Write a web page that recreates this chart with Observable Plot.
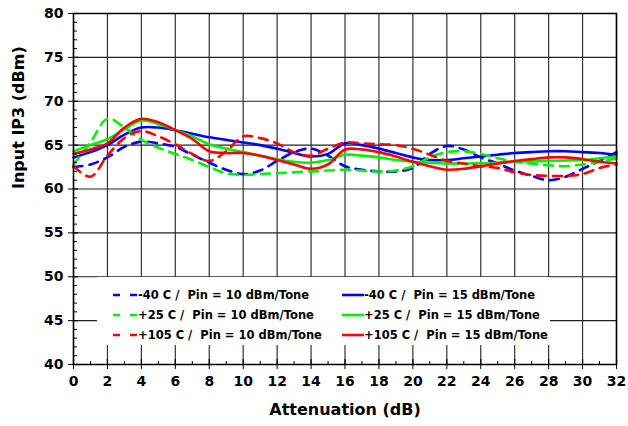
<!DOCTYPE html>
<html>
<head>
<meta charset="utf-8">
<script src="https://cdn.jsdelivr.net/npm/d3@7"></script>
<script src="https://cdn.jsdelivr.net/npm/@observablehq/plot@0.6"></script>
<style>
  html, body { margin: 0; padding: 0; background: #fff; }
  #wrap { position: relative; width: 628px; height: 426px; }
  #legend { position: absolute; left: 97px; top: 277px; width: 453px; height: 68px; background: #fff; }
  svg { font-family: "DejaVu Sans", Verdana, sans-serif; }
</style>
</head>
<body>
<div id="wrap"><div id="legend"></div></div>
<script>
// ---- data ----
const atten = [0,1,2,3,4,5,6,7,8,9,10,11,12,13,14,15,16,17,18,19,20,21,22,23,24,25,26,27,28,29,30,31,32];

const m40_10 = [62.5,62.8,63.6,64.8,65.4,65.2,64.8,63.9,63.0,62.2,61.7,62.1,63.2,64.2,64.6,63.8,62.6,62.2,62.0,62.0,62.4,64.0,64.9,64.5,63.6,62.9,62.1,61.5,61.0,61.4,62.3,63.2,64.2];
const m40_15 = [63.6,64.2,65.0,66.2,67.0,67.0,66.7,66.3,65.9,65.6,65.3,65.0,64.6,64.1,63.7,64.0,65.2,65.0,64.6,64.1,63.6,63.3,63.3,63.5,63.7,63.9,64.1,64.2,64.3,64.3,64.2,64.1,63.9];
const p25_10 = [62.8,65.3,68.0,67.0,65.6,64.7,64.0,63.3,62.5,61.8,61.6,61.7,61.8,61.9,62.0,62.1,62.2,62.1,62.0,62.1,62.6,63.6,64.2,64.3,64.0,63.5,63.1,62.9,62.7,62.6,62.8,63.1,63.5];
const p25_15 = [64.3,65.0,65.7,66.8,67.8,67.4,66.7,66.0,65.1,64.6,64.2,63.8,63.4,63.1,63.0,63.3,63.9,63.8,63.6,63.3,63.1,63.0,62.9,62.9,62.95,63.0,63.1,63.15,63.2,63.25,63.3,63.5,63.7];
const p105_10 = [62.6,61.4,63.8,65.8,66.6,66.0,65.1,64.0,63.2,64.3,66.0,65.8,65.2,64.2,63.8,64.6,65.3,65.2,65.1,65.0,64.6,63.9,63.2,62.9,62.6,62.4,61.9,61.6,61.5,61.5,61.7,62.4,62.8];
const p105_15 = [64.0,64.5,65.2,67.0,68.0,67.6,66.7,65.7,64.3,64.1,64.1,63.8,63.3,62.8,62.3,62.8,64.5,64.5,64.2,63.7,63.1,62.6,62.2,62.3,62.6,62.9,63.2,63.4,63.6,63.6,63.4,63.1,62.9];

const seriesNames = [
  "-40 C /  Pin = 10 dBm/Tone", "-40 C /  Pin = 15 dBm/Tone",
  "+25 C /  Pin = 10 dBm/Tone", "+25 C /  Pin = 15 dBm/Tone",
  "+105 C /  Pin = 10 dBm/Tone", "+105 C /  Pin = 15 dBm/Tone"
];
const seriesValues = [m40_10, m40_15, p25_10, p25_15, p105_10, p105_15];
const seriesColors = ["#0000ff", "#0000ff", "#00f000", "#00f000", "#ff0000", "#ff0000"];
const seriesDashed = [true, false, true, false, true, false];

const xTicks = [0,2,4,6,8,10,12,14,16,18,20,22,24,26,28,30,32];
const xMinor = [1,3,5,7,9,11,13,15,17,19,21,23,25,27,29,31];
const yTicks = [40,45,50,55,60,65,70,75,80];
const yMinor = [41,42,43,44,46,47,48,49,51,52,53,54,56,57,58,59,61,62,63,64,66,67,68,69,71,72,73,74,76,77,78,79];

const xLabel = "Attenuation (dB)";
const yLabel = "Input IP3 (dBm)";

// ---- build ----
const W = 628, H = 426;
const mL = 73, mR = 12, mT = 13, mB = 62;
const innerW = W - mL - mR, innerH = H - mT - mB;

const rows = [];
seriesNames.forEach((name, i) => {
  seriesValues[i].forEach((v, j) => rows.push({series: name, a: atten[j], v}));
});

const lineMarks = seriesNames.map((name, i) =>
  Plot.line(rows.filter(r => r.series === name), {
    x: "a", y: "v", curve: "catmull-rom",
    stroke: seriesColors[i], strokeWidth: 2.6,
    strokeDasharray: seriesDashed[i] ? "9,7" : null
  })
);

const chart = Plot.plot({
  width: W, height: H,
  marginLeft: mL, marginRight: mR, marginTop: mT, marginBottom: mB,
  style: {fontFamily: "DejaVu Sans, Verdana, sans-serif", fontSize: "14px", fontWeight: "bold", color: "#000", background: "#fff"},
  x: {domain: [0, 32]},
  y: {domain: [40, 80]},
  marks: [
    Plot.gridX(xTicks, {stroke: "#333", strokeOpacity: 1, strokeWidth: 1.2}),
    Plot.gridY(yTicks, {stroke: "#222", strokeOpacity: 1, strokeWidth: 1.2}),
    ...lineMarks,
    Plot.frame({stroke: "#000", strokeWidth: 1.5}),
    Plot.axisX({ticks: xTicks, tickSize: 5, tickPadding: 7, label: null, fontSize: 14, fontWeight: "bold"}),
    Plot.axisY({ticks: yTicks, tickSize: 5, tickPadding: 5, label: null, fontSize: 14, fontWeight: "bold"}),
    Plot.tickX(xTicks, {x: d => d, insetTop: innerH - 5, stroke: "#000", strokeWidth: 1.2}),
    Plot.tickX(xMinor, {x: d => d, insetTop: innerH - 3, stroke: "#000", strokeWidth: 1}),
    Plot.tickY(yTicks, {y: d => d, insetRight: innerW - 5, stroke: "#000", strokeWidth: 1.2}),
    Plot.tickY(yMinor, {y: d => d, insetRight: innerW - 4, stroke: "#000", strokeWidth: 1}),
    Plot.text([xLabel], {frameAnchor: "bottom", dy: 50, fontSize: 16, fontWeight: "bold", fill: "#000"}),
    Plot.text([yLabel], {frameAnchor: "left", dx: -55, rotate: -90, fontSize: 16, fontWeight: "bold", fill: "#000"})
  ]
});
document.getElementById("wrap").prepend(chart);

// ---- legend ----
const leg = d3.select("#legend").append("svg").attr("width", 453).attr("height", 68)
  .style("font-family", "DejaVu Sans, Verdana, sans-serif");
seriesNames.forEach((name, i) => {
  const col = i % 2, row = Math.floor(i / 2);
  const x0 = col === 0 ? 16 : 245;
  const y = 18 + row * 20;
  const g = leg.append("g");
  if (seriesDashed[i]) {
    g.append("line").attr("x1", x0).attr("x2", x0 + 24).attr("y1", y).attr("y2", y)
      .attr("stroke", seriesColors[i]).attr("stroke-width", 2.6).attr("stroke-dasharray", "7,10");
  } else {
    g.append("line").attr("x1", x0).attr("x2", x0 + 22).attr("y1", y).attr("y2", y)
      .attr("stroke", seriesColors[i]).attr("stroke-width", 2.6);
  }
  g.append("text").attr("x", x0 + (seriesDashed[i] ? 25 : 22)).attr("y", y).attr("dy", "0.35em")
    .attr("font-size", 11.5).attr("font-weight", "bold").attr("fill", "#000")
    .style("white-space", "pre").text(name);
});
</script>
</body>
</html>
